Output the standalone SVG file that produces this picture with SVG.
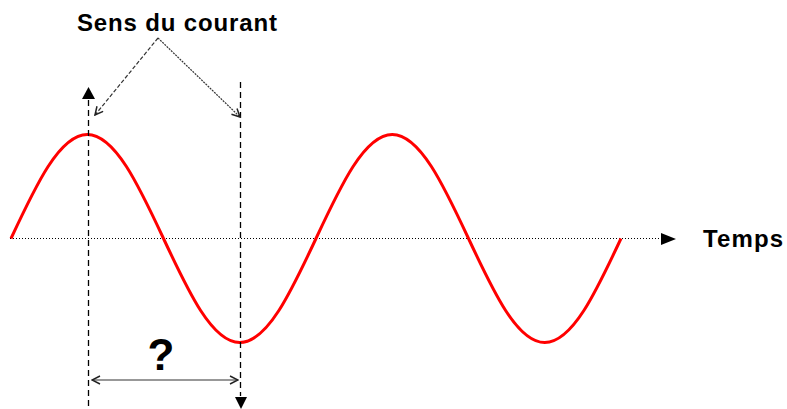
<svg xmlns="http://www.w3.org/2000/svg" width="787" height="409" viewBox="0 0 787 409">
<style>
.lbl{font-family:"Liberation Sans",Arial,sans-serif;font-weight:bold;fill:#000}
.vdash{stroke:#000;stroke-width:1.3;stroke-dasharray:6,4;fill:none}
.axis{stroke:#000;stroke-width:1.2;stroke-dasharray:1,2;fill:none}
.thin{stroke:#333;stroke-width:1.2;fill:none}
.wave{stroke:#f00;stroke-width:3;fill:none;stroke-linejoin:round}
</style>
<defs>
<marker id="chev" viewBox="0 0 10 10" refX="9" refY="5" markerWidth="10" markerHeight="10" markerUnits="userSpaceOnUse" orient="auto-start-reverse">
<path d="M1,1 L9,5 L1,9" fill="none" stroke="#222" stroke-width="1.5" stroke-dasharray="none"/>
</marker>
</defs>
<rect width="787" height="409" fill="#fff"/>
<g id="axis">
<line class="axis" x1="10" y1="238.5" x2="662" y2="238.5"/>
<polygon points="676,239 661,233 661,245" fill="#000"/>
<text class="lbl" x="703" y="247" font-size="24" textLength="80" lengthAdjust="spacing">Temps</text>
</g>
<g id="wave">
<path class="wave" d="M11,238.5 C35.87,185.2 59.66,134.5 87.25,134.5 C114.84,134.5 138.63,185.2 163.5,238.5 C188.37,291.8 212.16,342.5 239.75,342.5 C267.34,342.5 291.13,291.8 316,238.5 C340.87,185.2 364.66,134.5 392.25,134.5 C419.84,134.5 443.63,185.2 468.5,238.5 C493.37,291.8 517.16,342.5 544.75,342.5 C572.34,342.5 596.13,291.8 621,238.5"/>
</g>
<g id="left-marker">
<line class="vdash" x1="88.5" y1="100" x2="88.5" y2="409"/>
<polygon points="88.5,87 82,99 95,99" fill="#000"/>
</g>
<g id="right-marker">
<line class="vdash" x1="240.5" y1="82" x2="240.5" y2="396"/>
<polygon points="241,409 235,397 247,397" fill="#000"/>
</g>
<g id="label">
<text class="lbl" x="77" y="31" font-size="24" textLength="200" lengthAdjust="spacing">Sens du courant</text>
</g>
<g id="connectors">
<line class="thin" x1="158" y1="38" x2="95" y2="115" stroke-dasharray="4,2" marker-end="url(#chev)"/>
<line class="thin" x1="158" y1="38" x2="240" y2="117" stroke-dasharray="2,1" marker-end="url(#chev)"/>
<line class="thin" x1="92" y1="380" x2="238" y2="380" stroke-width="2" stroke="#444" marker-start="url(#chev)" marker-end="url(#chev)"/>
</g>
<g id="question">
<text class="lbl" x="161" y="370" font-size="44" text-anchor="middle">?</text>
</g>
</svg>
